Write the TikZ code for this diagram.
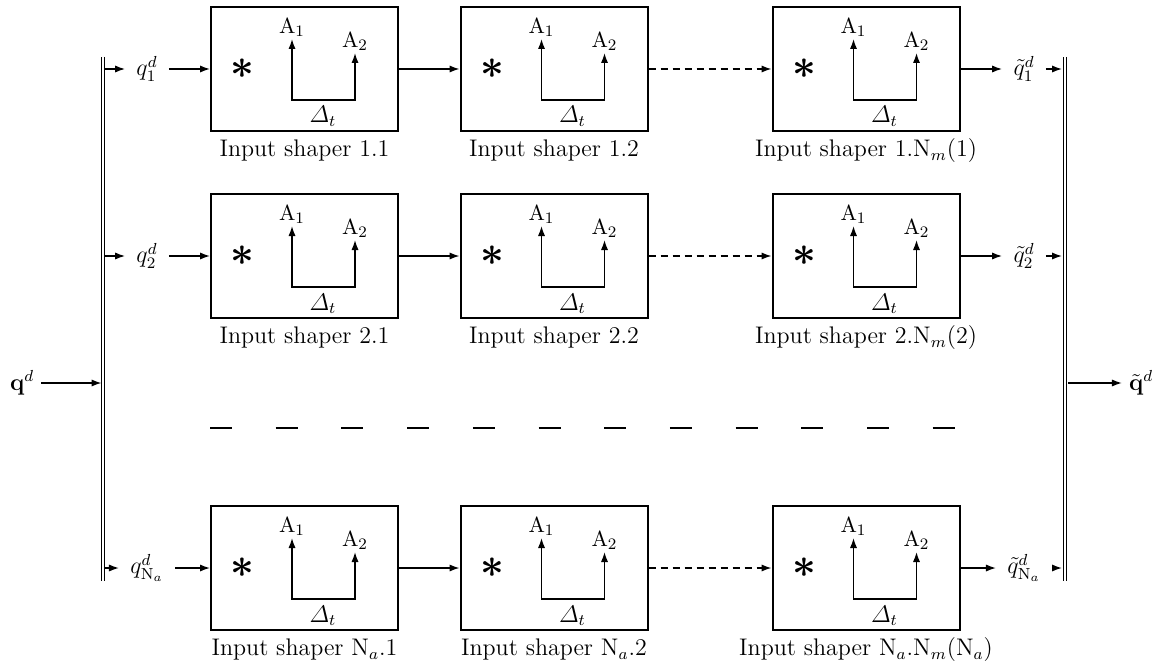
\documentclass[tikz,border=0pt]{standalone}
\usepackage{amsmath,amssymb}
\usetikzlibrary{positioning}
\usetikzlibrary{arrows.meta}
\newcommand{\labfont}{\fontsize{11}{13}\selectfont}
\tikzset{
  shaper/.style = {draw, line width = 1pt, minimum width = 93.5pt, minimum height = 62pt, inner sep = 0},
  capt/.style = {text height = 1.6ex, text depth = 0.5ex},
  alab/.style = {anchor = south, inner sep = 1pt, font = \labfont},
  arr/.style = {-{Latex[length = 5pt, width = 3.6pt]}, line width = 0.7pt},
  arrboth/.style = {{Latex[length = 5pt, width = 3.6pt]}-{Latex[length = 5pt, width = 3.6pt]}, line width = 0.7pt},
  bar/.style = {double, double distance = 1.3pt, line width = 0.5pt},
  qlbl/.style = {inner sep = 5.5pt},
}

\begin{document}
\begin{tikzpicture}[x = 0.5pt, y = -0.5pt, font = \large]
    \useasboundingbox (0,0) rectangle (1165,668);
    % collecting bars
    \coordinate (lt) at (103,57);
    \coordinate (lb) at (103,581);
    \coordinate (rt) at (1065,57);
    \coordinate (rb) at (1065,581);
    \draw[bar] (lt) -- (lb);
    \draw[bar] (rt) -- (rb);
    % input and output
    \node (qin) at (22,383) {$\mathbf{q}^d$};
    \coordinate (lin) at (101.5,383);
    \draw[arr] (qin) -- (lin);
    \node (qout) at (1141,383) {$\tilde{\mathbf{q}}^d$};
    \coordinate (rout) at (1068,383);
    \draw[arr] (rout) -- (qout);
    % rows of shapers
    \foreach \r/\y/\idx/\pre in {1/69/1/1, 2/256/2/2, 3/568/{\mathrm{N}_a}/{N$_a$}} {
        \foreach \c/\x in {1/304.5, 2/554, 3/866} {
            \node[shaper] (b\r\c) at (\x,\y) {};
            \node[capt, below = 2pt of b\r\c] (c\r\c) {Input shaper \pre.\ifnum\c=3 N$_m$(\pre)\else\c\fi};
            \begin{scope}[shift = {(b\r\c.center)}]
                \node (s\r\c) at (-62,0) {\huge$\boldsymbol{\ast}$};
                \node[alab] (a\r\c) at (-12.5,-30) {$\mathrm{A}_1$};
                \node[alab] (e\r\c) at (50.5,-16) {$\mathrm{A}_2$};
                \coordinate (p\r\c) at (-12.5,31);
                \coordinate (q\r\c) at (50.5,31);
                \node[anchor = south, inner sep = 1pt] (d\r\c) at (18.5,60) {$\varDelta_t$};
            \end{scope}
            \draw[arrboth] (a\r\c.south) -- (p\r\c) -- (q\r\c) -- (e\r\c.south);
        }
        \draw[arr] (b\r1) -- (b\r2);
        \draw[arr, dash pattern = on 3.5pt off 2.5pt] (b\r2) -- (b\r3);
        % branches
        \coordinate (l\r) at (105,\y);
        \node[qlbl] (q\r) at (147,\y) {$q_{\idx}^d$};
        \draw[arr] (l\r) -- (q\r);
        \draw[arr] (q\r) -- (b\r1);
        \node[qlbl] (t\r) at (1024,\y) {$\tilde{q}_{\idx}^d$};
        \coordinate (r\r) at (1062,\y);
        \draw[arr] (b\r3) -- (t\r);
        \draw[arr] (t\r) -- (r\r);
    }
    % omitted rows
    \coordinate (dl) at (210,428);
    \coordinate (dr) at (956,428);
    \draw[line width = 0.7pt, dash pattern = on 11pt off 21.85pt] (dl) -- (dr);
\end{tikzpicture}
\end{document}
